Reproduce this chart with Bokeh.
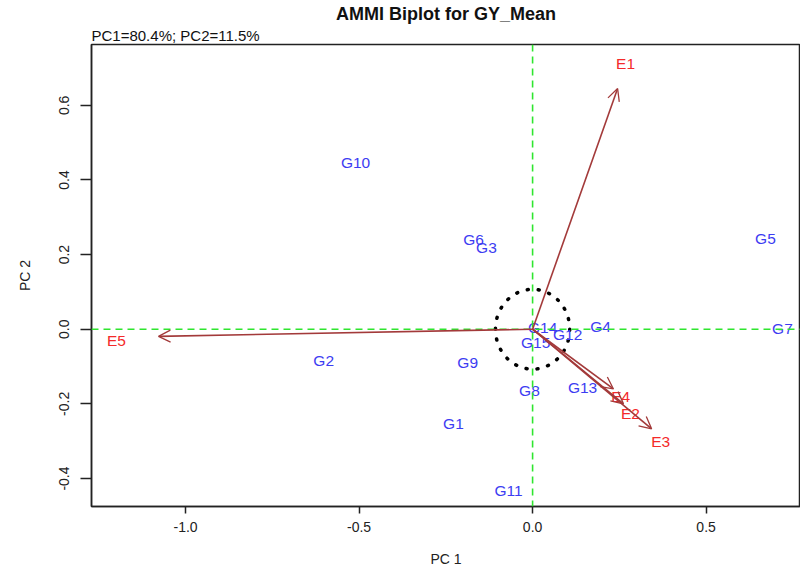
from bokeh.plotting import figure
from bokeh.models import Range1d, Arrow, OpenHead, Span, Title, FixedTicker, ColumnDataSource, NumeralTickFormatter
from bokeh.embed import file_html
from bokeh.resources import INLINE
from bokeh.core.properties import value

# ---------------- data ----------------
genotypes = ["G1", "G2", "G3", "G4", "G5", "G6", "G7", "G8", "G9", "G10",
             "G11", "G12", "G13", "G14", "G15"]
gen_pc1 = [-0.228, -0.602, -0.133, 0.196, 0.671, -0.170, 0.720, -0.009, -0.187, -0.510,
           -0.069, 0.101, 0.144, 0.029, 0.009]
gen_pc2 = [-0.253, -0.085, 0.219, 0.008, 0.243, 0.240, 0.003, -0.165, -0.088, 0.448,
           -0.432, -0.013, -0.157, 0.005, -0.035]

environments = ["E1", "E2", "E3", "E4", "E5"]
env_pc1 = [0.268, 0.282, 0.369, 0.254, -1.199]
env_pc2 = [0.712, -0.227, -0.301, -0.181, -0.029]
arrow_pc1 = [0.245, 0.262, 0.343, 0.233, -1.078]
arrow_pc2 = [0.645, -0.200, -0.267, -0.160, -0.019]

circle_radius = 0.107
x_ticks = [-1.0, -0.5, 0.0, 0.5]
y_ticks = [-0.4, -0.2, 0.0, 0.2, 0.4, 0.6]

title_text = "AMMI Biplot for GY_Mean"
subtitle_text = "PC1=80.4%; PC2=11.5%"
x_label = "PC 1"
y_label = "PC 2"

FONT = "Liberation Sans"
ARROW_COL = "#A33A3A"
ENV_COL = "#F42A2A"
GEN_COL = "#3C3CF2"
GREEN = "#2FE52F"

p = figure(width=800, height=569,
           x_range=Range1d(-1.271, 0.772), y_range=Range1d(-0.475, 0.763),
           output_backend="svg", toolbar_location=None,
           min_border_left=91, min_border_right=0, min_border_bottom=61, min_border_top=44,
           title=None)
p.background_fill_color = "white"
p.border_fill_color = "white"
p.outline_line_color = "#222222"
p.outline_line_width = 1.5
p.xgrid.visible = False
p.ygrid.visible = False

p.add_layout(Title(text=subtitle_text, align="left", text_font=FONT,
                   text_font_size="15px", text_font_style="normal",
                   text_color="#111111", standoff=1, offset=0), "above")
p.add_layout(Title(text=title_text, align="center", text_font=FONT,
                   text_font_size="18px", text_font_style="bold",
                   text_color="#111111", standoff=2), "above")

for ax in (p.xaxis[0], p.yaxis[0]):
    ax.axis_line_color = "#222222"
    ax.axis_line_width = 1.5
    ax.major_tick_line_color = "#222222"
    ax.major_tick_line_width = 1.5
    ax.major_tick_in = 0
    ax.minor_tick_line_color = None
    ax.major_label_text_font = FONT
    ax.major_label_text_font_size = "14px"
    ax.major_label_text_color = "#222222"
    ax.axis_label_text_font = FONT
    ax.axis_label_text_font_size = "14px"
    ax.axis_label_text_font_style = "normal"
    ax.axis_label_text_color = "#222222"
    ax.formatter = NumeralTickFormatter(format="0.0")

p.xaxis[0].ticker = FixedTicker(ticks=x_ticks)
p.yaxis[0].ticker = FixedTicker(ticks=y_ticks)
p.xaxis[0].axis_label = x_label
p.yaxis[0].axis_label = y_label
p.xaxis[0].major_tick_out = 7
p.yaxis[0].major_tick_out = 11
p.xaxis[0].major_label_standoff = 8
p.yaxis[0].major_label_standoff = 11
p.xaxis[0].axis_label_standoff = 16
p.yaxis[0].axis_label_standoff = 24
p.yaxis[0].major_label_orientation = "vertical"

# reference lines through origin
p.add_layout(Span(location=0, dimension="width", line_color=GREEN, line_width=1.6, line_dash="7 5"))
p.add_layout(Span(location=0, dimension="height", line_color=GREEN, line_width=1.6, line_dash="7 5"))

# dotted circle around origin
p.ellipse(x=[0], y=[0], width=[2 * circle_radius], height=[2 * circle_radius],
          fill_color=None, line_color="black", line_width=3.5, line_dash="1 10", line_cap="round")

# environment vectors
src = ColumnDataSource(data=dict(x0=[0.0] * len(arrow_pc1), y0=[0.0] * len(arrow_pc2),
                                 x1=arrow_pc1, y1=arrow_pc2))
p.add_layout(Arrow(end=OpenHead(size=12, line_color=ARROW_COL, line_width=1.3),
                   x_start="x0", y_start="y0", x_end="x1", y_end="y1", source=src,
                   line_color=ARROW_COL, line_width=1.6))

# labels
p.text(x=gen_pc1, y=gen_pc2, text=genotypes, text_align="center", text_baseline="middle",
       text_font=value(FONT), text_font_size="15.5px", text_color=GEN_COL)
p.text(x=env_pc1, y=env_pc2, text=environments, text_align="center", text_baseline="middle",
       text_font=value(FONT), text_font_size="15.5px", text_color=ENV_COL)

open("out.html", "w").write(file_html(p, INLINE))
